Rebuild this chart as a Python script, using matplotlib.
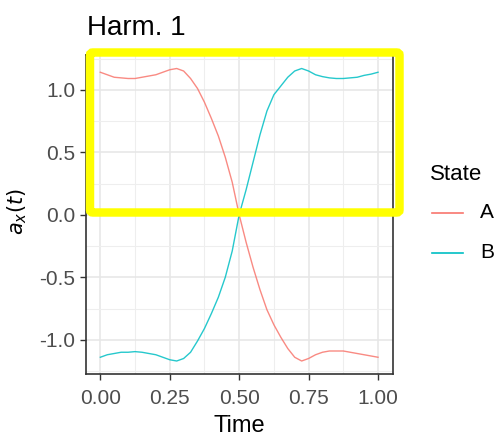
import matplotlib
matplotlib.use("Agg")
import matplotlib.pyplot as plt
import numpy as np
from matplotlib.lines import Line2D
from matplotlib.patches import FancyBboxPatch
from matplotlib.ticker import MultipleLocator

# values
time = np.arange(41) * 0.025
state_a = [1.14, 1.12, 1.10, 1.095, 1.09, 1.09, 1.10, 1.11, 1.12, 1.14,
           1.16, 1.17, 1.15, 1.09, 1.01, 0.90, 0.77, 0.63, 0.46, 0.26,
           0.00, -0.22, -0.42, -0.60, -0.76, -0.88, -0.98, -1.07, -1.14, -1.17,
           -1.15, -1.12, -1.10, -1.09, -1.09, -1.09, -1.10, -1.11, -1.12, -1.13,
           -1.14]
state_b = [-1.14, -1.12, -1.11, -1.10, -1.10, -1.095, -1.10, -1.11, -1.12, -1.14,
           -1.16, -1.17, -1.15, -1.10, -1.01, -0.91, -0.79, -0.66, -0.50, -0.29,
           0.00, 0.20, 0.42, 0.64, 0.83, 0.96, 1.03, 1.10, 1.15, 1.17,
           1.15, 1.12, 1.105, 1.095, 1.09, 1.09, 1.095, 1.10, 1.115, 1.125,
           1.14]
states = ["A", "B"]
colors = ["#F8766D", "#00BFC4"]

plt.rcParams['font.family'] = ['Liberation Sans', 'DejaVu Sans']

W, H = 494, 437
fig = plt.figure(figsize=(W / 100, H / 100), dpi=100)
ax = fig.add_axes([86 / W, 1 - 374 / H, (393 - 86) / W, (374 - 55) / H])

for vals, c in zip([state_a, state_b], colors):
    ax.plot(time, vals, color=c, lw=1.0, alpha=0.85)

ax.set_xlim(-0.0516, 1.054)
ax.set_ylim(-1.274, 1.278)
ax.xaxis.set_minor_locator(MultipleLocator(0.125))
ax.yaxis.set_minor_locator(MultipleLocator(0.25))
ax.set_xticks([0, 0.25, 0.5, 0.75, 1.0], ["0.00", "0.25", "0.50", "0.75", "1.00"])
ax.set_yticks([-1, -0.5, 0, 0.5, 1.0], ["-1.0", "-0.5", "0.0", "0.5", "1.0"])
ax.grid(which='major', color='#E6E6E6', lw=1.1)
ax.grid(which='minor', color='#EEEEEE', lw=0.8)
ax.set_axisbelow(True)
ax.tick_params(which='major', length=4.5, width=1.0, color='#333333',
               labelsize=15, labelcolor='#4D4D4D', pad=3)
ax.tick_params(axis='x', which='major', pad=6.5)
ax.tick_params(which='minor', length=0)
for s in ax.spines.values():
    s.set_color('#333333')
    s.set_linewidth(1.2)

ax.set_xlabel("Time", fontsize=17, labelpad=5)
fig.text(87 / W, 1 - 35 / H, "Harm. 1", fontsize=20, ha='left', va='baseline')
fig.text(29 / W, 1 - 212 / H, "$a_x(t)$", fontsize=15, rotation=90,
         ha='right', va='center')

# legend
fig.text(430 / W, 1 - 180 / H, "State", fontsize=16, ha='left', va='baseline')
for i, (st, c) in enumerate(zip(states, colors)):
    y = 1 - (213 + 40 * i) / H
    fig.add_artist(Line2D([432 / W, 463 / W], [y, y], color=c, lw=1.2,
                          transform=fig.transFigure))
    fig.text(480 / W, y, st, fontsize=15, ha='left', va='center')

# yellow highlight frame
fig.add_artist(FancyBboxPatch((90 / W, 1 - 212.5 / H), 309.5 / W, 160 / H,
                              boxstyle="round,pad=0,rounding_size=0.006",
                              transform=fig.transFigure, fill=False,
                              edgecolor='#FFFF00', lw=6.1, zorder=10))

fig.savefig("out.png", dpi=100)
